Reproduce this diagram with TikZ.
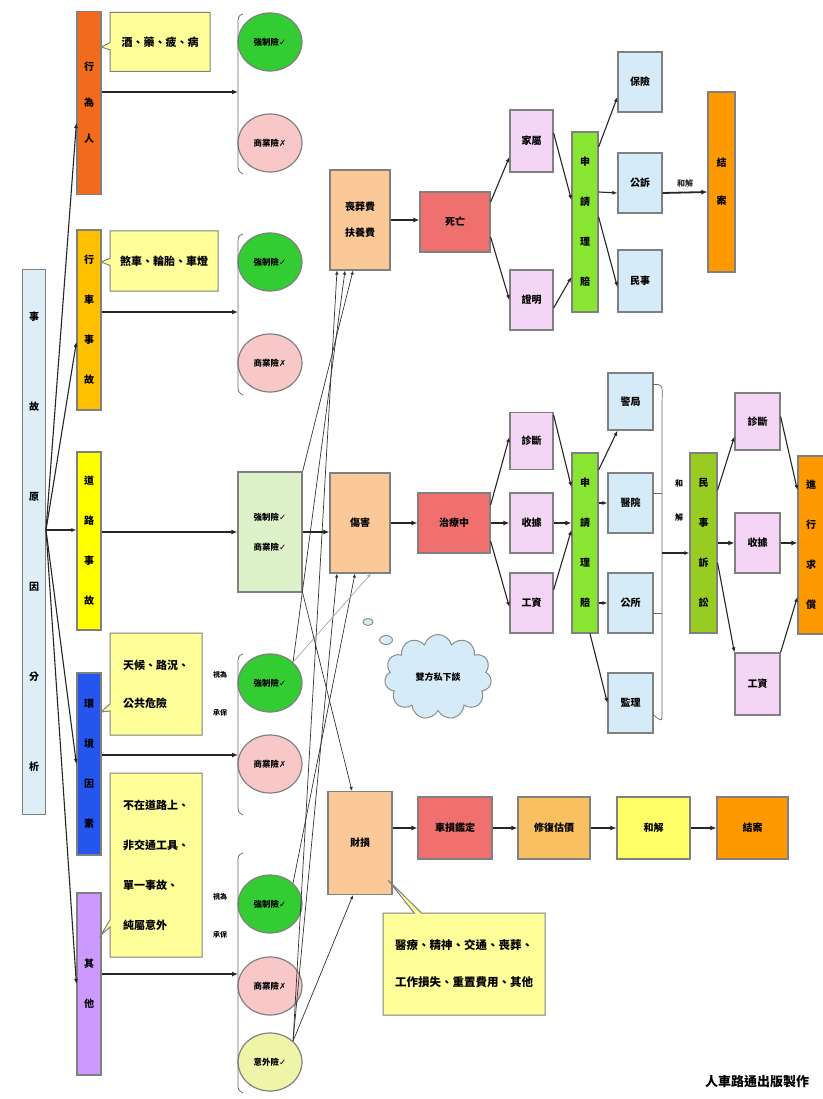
\documentclass[tikz,border=0pt]{standalone}
\usepackage{fontspec}
\setmainfont{Noto Sans CJK TC}
\newfontfamily\djv{DejaVu Sans}
\usetikzlibrary{arrows.meta,calc,shapes.geometric,shapes.callouts,shapes.symbols}
\newcommand{\okm}{{\djv\char"2713}}
\newcommand{\nom}{{\djv\char"2717}}
\definecolor{cO1}{HTML}{F26B1D}
\definecolor{cGold}{HTML}{FFC000}
\definecolor{cYel}{HTML}{FFFF00}
\definecolor{cBlue}{HTML}{2456EE}
\definecolor{cPur}{HTML}{CC99FF}
\definecolor{cLB}{HTML}{DDEEF7}
\definecolor{cGreen}{HTML}{33CC33}
\definecolor{cPink}{HTML}{F8C8C8}
\definecolor{cLG}{HTML}{DDF2C8}
\definecolor{cLY}{HTML}{EEF5A8}
\definecolor{cPeach}{HTML}{FBC898}
\definecolor{cRed}{HTML}{F07070}
\definecolor{cPk}{HTML}{F5D5F5}
\definecolor{cLime}{HTML}{88E633}
\definecolor{cLime2}{HTML}{99CC22}
\definecolor{cSky}{HTML}{D5EBF7}
\definecolor{cOr}{HTML}{FF9900}
\definecolor{cCall}{HTML}{FFFF99}
\definecolor{cTan}{HTML}{F8C060}
\definecolor{cY3}{HTML}{FFFF66}
\begin{document}
\begin{tikzpicture}[x=1pt,y=-1pt,
 bx/.style={draw=black!50, line width=1.2pt, align=center, inner sep=0pt, font=\bfseries\fontsize{10}{12}\selectfont},
 vb/.style={bx, minimum width=24, font=\bfseries\fontsize{10}{40}\selectfont},
 el/.style={ellipse, draw=black!50, line width=1.2pt, inner sep=0pt, minimum width=64, minimum height=58, font=\bfseries\fontsize{8.5}{10}\selectfont},
 co/.style={rectangle callout, draw=black!50, line width=1pt, fill=cCall, align=left, inner sep=0pt, font=\bfseries\fontsize{11}{13}\selectfont},
 big/.style={-{Latex[length=6pt,width=5pt]}, line width=1.8pt, black!85},
 med/.style={-{Latex[length=5pt,width=4pt]}, line width=1.1pt, black!85},
 fine/.style={-{Latex[length=4pt,width=3.5pt]}, line width=0.7pt, black!80},
 brk/.style={line width=0.7pt, black!60},
 lbl/.style={inner sep=0pt, align=center, font=\bfseries\fontsize{7}{14}\selectfont}
]
\useasboundingbox (0,0) rectangle (822,1099);
\fill[white] (0,0) rectangle (822,1099);

% left main box
\node[bx, fill=cLB, minimum width=23, minimum height=545, font=\bfseries\fontsize{10}{90}\selectfont] (L) at (34,542) {事\\故\\原\\因\\分\\析};

% category boxes
\node[vb, fill=cO1, minimum height=183, font=\bfseries\fontsize{10}{36}\selectfont] (C1) at (89,103) {行\\為\\人};
\node[vb, fill=cGold, minimum height=180] (C2) at (89,320) {行\\車\\事\\故};
\node[vb, fill=cYel, minimum height=178] (C3) at (89,541) {道\\路\\事\\故};
\node[vb, fill=cBlue, minimum height=182] (C4) at (89,764) {環\\境\\因\\素};
\node[vb, fill=cPur, minimum height=182] (C5) at (89,984) {其\\他};

% callouts
\node[co, minimum width=100, minimum height=59, callout absolute pointer={(101,47)}] (K1) at (160,42) {酒、藥、疲、病};
\node[co, minimum width=108, minimum height=60, callout absolute pointer={(101,262)}] (K2) at (164,261) {煞車、輪胎、車燈};
\node[co, minimum width=92, minimum height=102, font=\bfseries\fontsize{11}{38}\selectfont, callout absolute pointer={(101,712)}] (K4) at (156,684) {天候、路況、\\公共危險};
\node[co, minimum width=92, minimum height=184, font=\bfseries\fontsize{11}{40}\selectfont, callout absolute pointer={(101,935)}] (K5) at (156,865) {不在道路上、\\非交通工具、\\單一事故、\\純屬意外};

% fan from main box
\coordinate (f) at (46,530);
\draw[med] (f) -- ([yshift=-20pt]C1.west);
\draw[med] (f) -- ([yshift=-22pt]C2.west);
\draw[med] (f) -- (f -| C3.west);
\draw[med] (f) -- (C4.west);
\draw[med] (f) -- (C5.west);

% insurance ellipses
\node[el, fill=cGreen] (G1) at (270,42) {強制險\okm};
\node[el, fill=cPink] (P1) at (270,143) {商業險\nom};
\node[el, fill=cGreen] (G2) at (270,262) {強制險\okm};
\node[el, fill=cPink] (P2) at (270,363) {商業險\nom};
\node[bx, fill=cLG, minimum width=64, minimum height=120, font=\bfseries\fontsize{8.5}{30}\selectfont] (LG) at (270,532) {強制險\okm\\商業險\okm};
\node[el, fill=cGreen] (G4) at (270,683) {強制險\okm};
\node[el, fill=cPink] (P4) at (270,764) {商業險\nom};
\node[el, fill=cGreen] (G5) at (270,904) {強制險\okm};
\node[el, fill=cPink] (P5) at (270,986) {商業險\nom};
\node[el, fill=cLY] (Y5) at (270,1062) {意外險\okm};

\node[lbl, font=\bfseries\fontsize{7}{38}\selectfont] (s4) at (220,694) {視為\\承保};
\node[lbl, font=\bfseries\fontsize{7}{38}\selectfont] (s5) at (220,916) {視為\\承保};

% brackets
\draw[brk] (243,14) .. controls (238,16) .. (238,26) -- (238,162) .. controls (238,171) .. (243,174);
\draw[brk] (243,234) .. controls (238,236) .. (238,246) -- (238,384) .. controls (238,392) .. (243,395);
\draw[brk] (243,654) .. controls (238,656) .. (238,666) -- (238,804) .. controls (238,812) .. (243,815);
\draw[brk] (243,853) .. controls (238,855) .. (238,865) -- (238,1082) .. controls (238,1090) .. (243,1093);

\coordinate (e1) at (238,92);
\coordinate (e2) at (238,312);
\coordinate (e4) at (238,755);
\coordinate (e5) at (238,974);
\draw[big] (C1.east |- e1) -- (e1);
\draw[big] (C2.east |- e2) -- (e2);
\draw[big] (C3.east |- LG.west) -- (LG.west);
\draw[big] (C4.east |- e4) -- (e4);
\draw[big] (C5.east |- e5) -- (e5);

% middle column
\node[bx, fill=cPeach, minimum width=60, minimum height=100, font=\bfseries\fontsize{10}{26}\selectfont] (O1) at (360,220) {喪葬費\\扶養費};
\node[bx, fill=cPeach, minimum width=60, minimum height=100] (O2) at (360,523) {傷害};
\node[bx, fill=cPeach, minimum width=64, minimum height=103] (O3) at (360,843) {財損};

% insurance links
\draw[fine] (LG.north east) -- ([xshift=-7pt]O1.south);
\draw[fine] (G4.north east) -- ([xshift=-15pt]O1.south);
\draw[fine] (Y5.north east) -- ([xshift=-23pt]O1.south);
\draw[big] (LG.east) -- (LG.east -| O2.west);
\draw[fine] (G5.north east) -- ([xshift=-5pt]O2.south);
\draw[fine] (Y5.north east) -- ([xshift=-23pt]O2.south);
\draw[fine, black!35] (G4.north east) -- ([xshift=11pt]O2.south);
\draw[fine] (LG.south east) -- ([xshift=-8pt]O3.north);
\draw[fine] (Y5.north east) -- ([xshift=-7pt]O3.south);

% row 1
\node[bx, fill=cRed, minimum width=70, minimum height=60] (R1) at (455,222) {死亡};
\node[bx, fill=cPk, minimum width=43, minimum height=62] (Pk1a) at (531.5,141) {家屬};
\node[bx, fill=cPk, minimum width=43, minimum height=60] (Pk1b) at (531.5,300) {證明};
\node[vb, fill=cLime, minimum width=26, minimum height=180] (GR1) at (585,222) {申\\請\\理\\賠};
\node[bx, fill=cSky, minimum width=44, minimum height=60] (B1a) at (640,82) {保險};
\node[bx, fill=cSky, minimum width=44, minimum height=60] (B1b) at (640,183) {公訴};
\node[bx, fill=cSky, minimum width=44, minimum height=62] (B1c) at (640,281) {民事};
\node[vb, fill=cOr, minimum width=27, minimum height=180, font=\bfseries\fontsize{10}{38}\selectfont] (OR1) at (721.5,182) {結\\案};

\draw[big] (O1.east) -- (O1.east -| R1.west);
\draw[med] ([yshift=20pt]R1.east) -- ([yshift=-16pt]Pk1a.west);
\draw[med] ([yshift=-15pt]R1.east) -- (Pk1b.west);
\draw[med] ([yshift=8pt]Pk1a.east) -- ([yshift=22pt]GR1.west);
\draw[med] ([yshift=-8pt]Pk1b.east) -- ([yshift=-55pt]GR1.west);
\draw[med] ([yshift=75pt]GR1.east) -- ([yshift=-15pt]B1a.west);
\draw[med] ([yshift=30pt]GR1.east) -- ([yshift=-10pt]B1b.west);
\draw[med] ([yshift=5pt]GR1.east) -- ([yshift=-6pt]B1c.west);
\draw[big] ([yshift=-10pt]B1b.east) -- node[above=4pt, font=\bfseries\fontsize{8}{10}\selectfont, inner sep=0pt] (hj1) {和解} ([yshift=-10pt]OR1.west);

% row 2
\node[bx, fill=cRed, minimum width=72, minimum height=60] (R2) at (454,523) {治療中};
\node[bx, fill=cPk, minimum width=43, minimum height=57] (Pk2a) at (531.5,441) {診斷};
\node[bx, fill=cPk, minimum width=43, minimum height=60] (Pk2b) at (531.5,523) {收據};
\node[bx, fill=cPk, minimum width=43, minimum height=60] (Pk2c) at (531.5,603) {工資};
\node[vb, fill=cLime, minimum width=26, minimum height=180] (GR2) at (585,543) {申\\請\\理\\賠};
\node[bx, fill=cSky, minimum width=45, minimum height=57] (B2a) at (630.5,401.5) {警局};
\node[bx, fill=cSky, minimum width=45, minimum height=60] (B2b) at (630.5,503) {醫院};
\node[bx, fill=cSky, minimum width=45, minimum height=60] (B2c) at (630.5,603) {公所};
\node[bx, fill=cSky, minimum width=45, minimum height=60] (B2d) at (630.5,703) {監理};
\node[vb, fill=cLime2, minimum width=27, minimum height=180] (GR3) at (703.5,543) {民\\事\\訴\\訟};
\node[bx, fill=cPk, minimum width=45, minimum height=57] (Pk3a) at (757.5,421.5) {診斷};
\node[bx, fill=cPk, minimum width=45, minimum height=60] (Pk3b) at (757.5,543) {收據};
\node[bx, fill=cPk, minimum width=45, minimum height=62] (Pk3c) at (757.5,684) {工資};
\node[vb, fill=cOr, minimum width=26, minimum height=178] (OR2) at (811,545) {進\\行\\求\\償};

\draw[big] (O2.east) -- (O2.east -| R2.west);
\draw[med] ([yshift=18pt]R2.east) -- ([yshift=4pt]Pk2a.west);
\draw[big] (R2.east) -- (Pk2b.west);
\draw[med] ([yshift=-18pt]R2.east) -- ([yshift=-4pt]Pk2c.west);
\draw[med] ([yshift=26pt]Pk2a.east) -- ([yshift=56pt]GR2.west);
\draw[big] (Pk2b.east) -- (Pk2b.east -| GR2.west);
\draw[med] ([yshift=13pt]Pk2c.east) -- ([yshift=13pt]GR2.west);
\draw[med] ([yshift=73pt]GR2.east) -- ([xshift=-13pt]B2a.south);
\draw[med] (GR2.east |- B2b.west) -- (B2b.west);
\draw[med] (GR2.east |- B2c.west) -- (B2c.west);
\draw[med] ([xshift=5pt]GR2.south) -- (B2d.west);
\draw[brk] ([yshift=-12pt]B2a.north east) .. controls ($([yshift=-12pt]B2a.north east)+(9,0)$) .. (662,402) -- (662,712) .. controls (662,722) .. ([yshift=-12pt]B2d.east);
\draw[brk] ([yshift=10pt]B2b.east) -- (662,493);
\draw[brk] ([yshift=-10pt]B2c.east) -- (662,613);
\coordinate (bj) at (662,553);
\draw[med] (bj) -- (bj -| GR3.west);
\node[lbl, font=\bfseries\fontsize{8}{34}\selectfont] (hj2) at (679,500) {和\\解};
\draw[med] ([yshift=53pt]GR3.east) -- ([yshift=-15pt]Pk3a.west);
\draw[big] (GR3.east |- Pk3b.west) -- (Pk3b.west);
\draw[med] ([yshift=-20pt]GR3.east) -- (Pk3c.north west);
\draw[med] ([yshift=5pt]Pk3a.east) -- ([yshift=55pt]OR2.west);
\draw[big] (Pk3b.east) -- (Pk3b.east -| OR2.west);
\draw[med] (Pk3c.north east) -- ([yshift=-52pt]OR2.west);

% cloud
\node[cloud, cloud puffs=11, aspect=1.5, draw=black!45, line width=1pt, fill=cSky, minimum width=107, minimum height=85, inner sep=0pt, font=\bfseries\fontsize{9}{11}\selectfont] (cl) at (438,677) {雙方私下談};
\node[ellipse, draw=black!45, line width=1pt, fill=cSky, minimum width=13, minimum height=9, inner sep=0pt] (tb2) at (386,640) {};
\node[ellipse, draw=black!45, line width=1pt, fill=cSky, minimum width=10, minimum height=7, inner sep=0pt] (tb1) at (368,622) {};

% row 3
\node[bx, fill=cRed, minimum width=74, minimum height=62] (R3) at (455,828) {車損鑑定};
\node[bx, fill=cTan, minimum width=72, minimum height=62] (Or3) at (554,828) {修復估價};
\node[bx, fill=cY3, minimum width=73, minimum height=62] (Y3) at (653.5,828) {和解};
\node[bx, fill=cOr, minimum width=71, minimum height=62] (OR3) at (752.5,828) {結案};
\draw[big] (O3.east |- R3.west) -- (R3.west);
\draw[big] (R3.east) -- (Or3.west);
\draw[big] (Or3.east) -- (Y3.west);
\draw[big] (Y3.east) -- (OR3.west);

\node[co, minimum width=162, minimum height=102, font=\bfseries\fontsize{11.5}{37}\selectfont, callout absolute pointer={(388,880)}] (K3) at (464,964) {醫療、精神、交通、喪葬、\\工作損失、重置費用、其他};

\node[font=\bfseries\fontsize{13}{15}\selectfont] (ft) at (757,1082) {人車路通出版製作};
\end{tikzpicture}
\end{document}
